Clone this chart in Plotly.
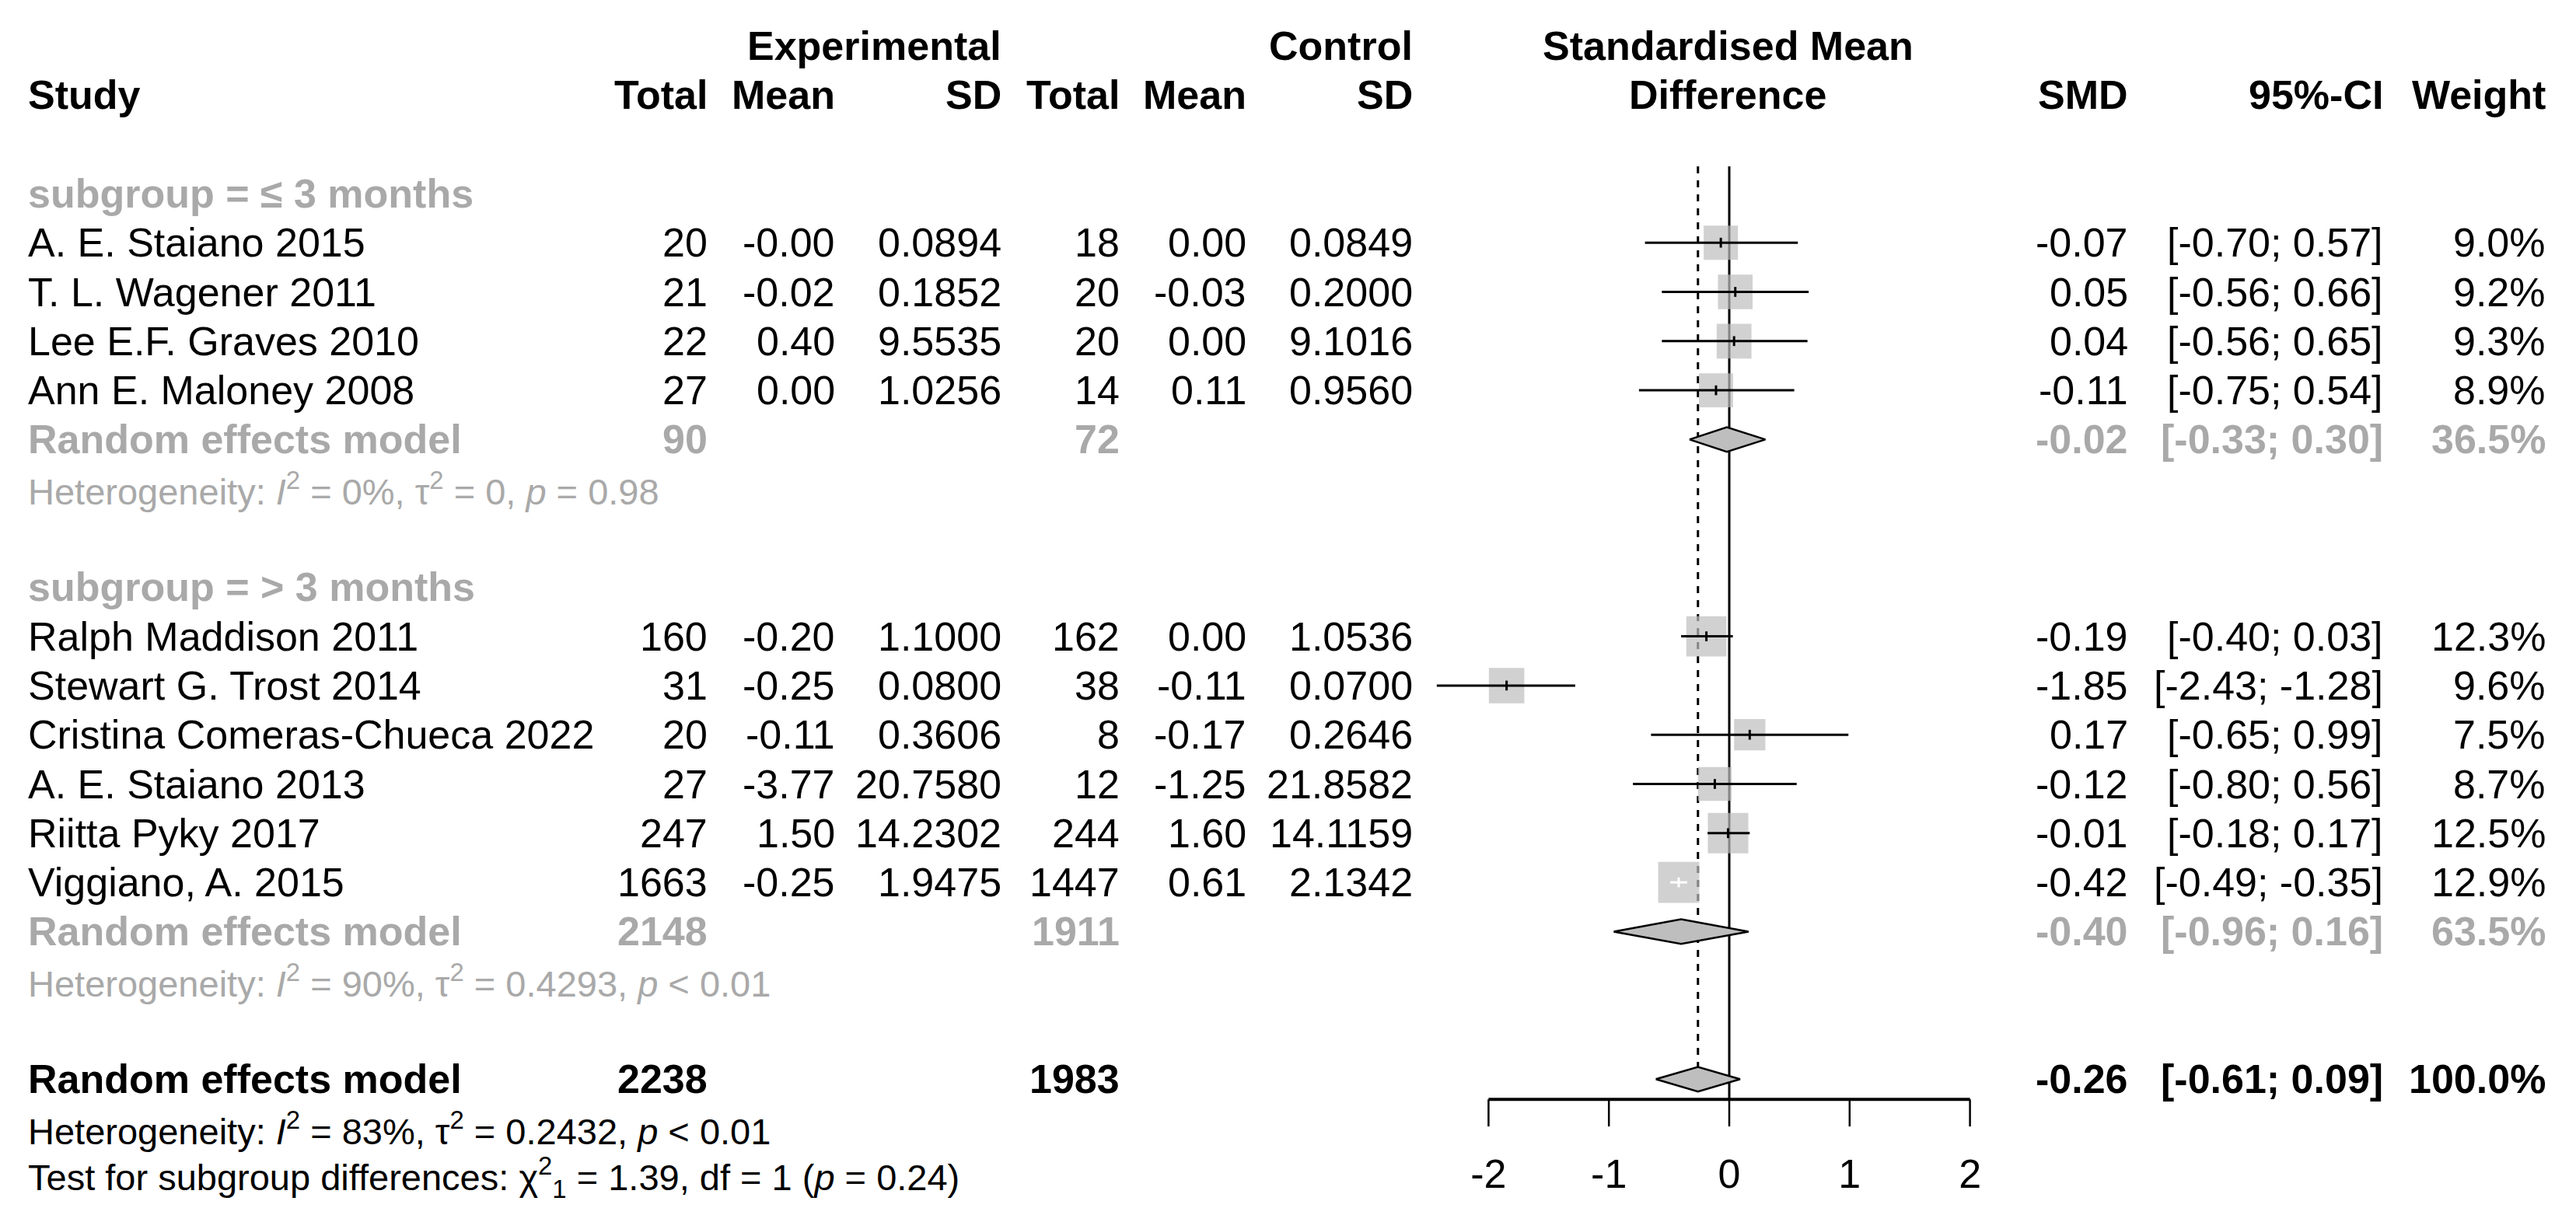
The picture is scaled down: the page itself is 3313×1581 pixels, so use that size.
import plotly.graph_objects as go

# ---------------- data ----------------
studies = ["A. E. Staiano 2015", "T. L. Wagener 2011", "Lee E.F. Graves 2010",
           "Ann E. Maloney 2008", "Ralph Maddison 2011", "Stewart G. Trost 2014",
           "Cristina Comeras-Chueca 2022", "A. E. Staiano 2013", "Riitta Pyky 2017",
           "Viggiano, A. 2015"]
group = [1, 1, 1, 1, 2, 2, 2, 2, 2, 2]
exp_total = [20, 21, 22, 27, 160, 31, 20, 27, 247, 1663]
exp_mean = [-0.0, -0.02, 0.40, 0.00, -0.20, -0.25, -0.11, -3.77, 1.50, -0.25]
exp_sd = [0.0894, 0.1852, 9.5535, 1.0256, 1.1000, 0.0800, 0.3606, 20.7580, 14.2302, 1.9475]
ctrl_total = [18, 20, 20, 14, 162, 38, 8, 12, 244, 1447]
ctrl_mean = [0.00, -0.03, 0.00, 0.11, 0.00, -0.11, -0.17, -1.25, 1.60, 0.61]
ctrl_sd = [0.0849, 0.2000, 9.1016, 0.9560, 1.0536, 0.0700, 0.2646, 21.8582, 14.1159, 2.1342]
smd = [-0.07, 0.05, 0.04, -0.11, -0.19, -1.85, 0.17, -0.12, -0.01, -0.42]
ci_low = [-0.70, -0.56, -0.56, -0.75, -0.40, -2.43, -0.65, -0.80, -0.18, -0.49]
ci_high = [0.57, 0.66, 0.65, 0.54, 0.03, -1.28, 0.99, 0.56, 0.17, -0.35]
weight = [9.0, 9.2, 9.3, 8.9, 12.3, 9.6, 7.5, 8.7, 12.5, 12.9]

sg_labels = ["subgroup = \u2264 3 months", "subgroup = > 3 months"]
sg_exp_total = [90, 2148]
sg_ctrl_total = [72, 1911]
sg_smd = [-0.02, -0.40]
sg_low = [-0.33, -0.96]
sg_high = [0.30, 0.16]
sg_weight = [36.5, 63.5]
sg_I2 = ["0%", "90%"]
sg_tau2 = ["0", "0.4293"]
sg_p = ["= 0.98", "< 0.01"]

all_exp_total = 2238
all_ctrl_total = 1983
all_smd = -0.26
all_low = -0.61
all_high = 0.09
all_weight = 100.0
all_I2 = "83%"
all_tau2 = "0.2432"
all_p = "< 0.01"
test_chi2 = "1.39"
test_df = "1"
test_p = "= 0.24"

ticks = [-2, -1, 0, 1, 2]
tick_labels = ["-2", "-1", "0", "1", "2"]

# ---------------- style / geometry ----------------
W, H = 3313, 1581
ZERO_PX, UNIT_PX = 2224, 154.8
ROW0_PX, ROW_PX = 59, 63.3
FONT = "Liberation Sans, Arial, Helvetica, sans-serif"
BLACK = "#000000"
GRAY_TXT = "#A9A9A9"
GRAY_FILL = "#BEBEBE"
FS = 52
FS_HET = 47
SQ_K = 14.7

COL = dict(study=34, e_tot=912, e_mean=1076, e_sd=1290, c_tot=1442, c_mean=1605,
           c_sd=1819, forest=2222, smd=2739, ci=3067, w=3276)

annotations = []


def txt(row, px, s, anchor="right", color=BLACK, size=FS, bold=False):
    if bold:
        s = "<b>" + s + "</b>"
    annotations.append(dict(x=px / W, xref="paper", y=row, yref="y", text=s,
                            xanchor=anchor, yanchor="middle", showarrow=False,
                            font=dict(family=FONT, size=size, color=color)))


# row layout
study_row = [0] * len(studies)
sg_row, rem_row, het_row = [], [], []
r = 3
for g in range(2):
    sg_row.append(r); r += 1
    for i in range(len(studies)):
        if group[i] == g + 1:
            study_row[i] = r; r += 1
    rem_row.append(r); r += 1
    het_row.append(r); r += 1
    r += 1
all_row = r
all_het_row = r + 1
test_row = r + 2
axis_row = all_row + 0.41
tick_end_row = all_row + 0.96
line_top = 2.45
DIA = 0.25

fig = go.Figure()

# reference lines
fig.add_trace(go.Scatter(x=[0, 0], y=[line_top, axis_row], mode="lines",
                         line=dict(color=BLACK, width=3), hoverinfo="skip"))
fig.add_trace(go.Scatter(x=[all_smd, all_smd], y=[line_top, all_row - DIA], mode="lines",
                         line=dict(color=BLACK, width=3, dash="9px,9px"), hoverinfo="skip"))

# axis
fig.add_trace(go.Scatter(x=[ticks[0], ticks[-1]], y=[axis_row, axis_row], mode="lines",
                         line=dict(color=BLACK, width=4), hoverinfo="skip"))
tx, ty = [], []
for t in ticks:
    tx += [t, t, None]
    ty += [axis_row, tick_end_row, None]
fig.add_trace(go.Scatter(x=tx, y=ty, mode="lines", line=dict(color=BLACK, width=2.5),
                         hoverinfo="skip"))
fig.add_trace(go.Scatter(x=ticks, y=[test_row] * len(ticks), mode="text", text=tick_labels,
                         textposition="middle center",
                         textfont=dict(family=FONT, size=FS, color=BLACK), hoverinfo="skip"))

# squares
sizes = [SQ_K * w ** 0.5 for w in weight]
fig.add_trace(go.Scatter(x=smd, y=study_row, mode="markers",
                         marker=dict(symbol="square", size=sizes, color=GRAY_FILL,
                                     line=dict(width=0)), hoverinfo="skip"))

# CI lines (white when the interval lies inside its square)
bx, by, wx, wy = [], [], [], []
for i in range(len(studies)):
    hw = sizes[i] / 2 / UNIT_PX
    inside = ci_low[i] >= smd[i] - hw and ci_high[i] <= smd[i] + hw
    xs, ys = (wx, wy) if inside else (bx, by)
    xs += [ci_low[i], ci_high[i], None, smd[i], smd[i], None]
    ys += [study_row[i], study_row[i], None, study_row[i] - 0.1, study_row[i] + 0.1, None]
fig.add_trace(go.Scatter(x=bx, y=by, mode="lines", line=dict(color=BLACK, width=3),
                         hoverinfo="skip"))
fig.add_trace(go.Scatter(x=wx, y=wy, mode="lines", line=dict(color="#FFFFFF", width=3),
                         hoverinfo="skip"))


def diamond(est, lo, hi, row):
    fig.add_trace(go.Scatter(x=[lo, est, hi, est, lo], y=[row, row - DIA, row, row + DIA, row],
                             mode="lines", fill="toself", fillcolor=GRAY_FILL,
                             line=dict(color=BLACK, width=2.5), hoverinfo="skip"))


for g in range(2):
    diamond(sg_smd[g], sg_low[g], sg_high[g], rem_row[g])
diamond(all_smd, all_low, all_high, all_row)

# ---------------- text ----------------
txt(0, COL["e_sd"], "Experimental", bold=True)
txt(0, COL["c_sd"], "Control", bold=True)
txt(0, COL["forest"], "Standardised Mean", anchor="center", bold=True)
txt(1, COL["study"], "Study", anchor="left", bold=True)
for k, s in [("e_tot", "Total"), ("e_mean", "Mean"), ("e_sd", "SD"), ("c_tot", "Total"),
             ("c_mean", "Mean"), ("c_sd", "SD"), ("smd", "SMD"), ("ci", "95%-CI"),
             ("w", "Weight")]:
    txt(1, COL[k], s, bold=True)
txt(1, COL["forest"], "Difference", anchor="center", bold=True)

for i, s in enumerate(studies):
    rr = study_row[i]
    txt(rr, COL["study"], s, anchor="left")
    txt(rr, COL["e_tot"], str(exp_total[i]))
    txt(rr, COL["e_mean"], f"{exp_mean[i]:.2f}")
    txt(rr, COL["e_sd"], f"{exp_sd[i]:.4f}")
    txt(rr, COL["c_tot"], str(ctrl_total[i]))
    txt(rr, COL["c_mean"], f"{ctrl_mean[i]:.2f}")
    txt(rr, COL["c_sd"], f"{ctrl_sd[i]:.4f}")
    txt(rr, COL["smd"], f"{smd[i]:.2f}")
    txt(rr, COL["ci"], f"[{ci_low[i]:.2f}; {ci_high[i]:.2f}]")
    txt(rr, COL["w"], f"{weight[i]:.1f}%")

for g in range(2):
    txt(sg_row[g], COL["study"], sg_labels[g], anchor="left", color=GRAY_TXT, bold=True)
    rr = rem_row[g]
    txt(rr, COL["study"], "Random effects model", anchor="left", color=GRAY_TXT, bold=True)
    txt(rr, COL["e_tot"], str(sg_exp_total[g]), color=GRAY_TXT, bold=True)
    txt(rr, COL["c_tot"], str(sg_ctrl_total[g]), color=GRAY_TXT, bold=True)
    txt(rr, COL["smd"], f"{sg_smd[g]:.2f}", color=GRAY_TXT, bold=True)
    txt(rr, COL["ci"], f"[{sg_low[g]:.2f}; {sg_high[g]:.2f}]", color=GRAY_TXT, bold=True)
    txt(rr, COL["w"], f"{sg_weight[g]:.1f}%", color=GRAY_TXT, bold=True)
    txt(het_row[g], COL["study"],
        f"Heterogeneity: <i>I</i><sup>2</sup> = {sg_I2[g]}, \u03c4<sup>2</sup> = {sg_tau2[g]}, "
        f"<i>p</i> {sg_p[g]}", anchor="left", color=GRAY_TXT, size=FS_HET)

txt(all_row, COL["study"], "Random effects model", anchor="left", bold=True)
txt(all_row, COL["e_tot"], str(all_exp_total), bold=True)
txt(all_row, COL["c_tot"], str(all_ctrl_total), bold=True)
txt(all_row, COL["smd"], f"{all_smd:.2f}", bold=True)
txt(all_row, COL["ci"], f"[{all_low:.2f}; {all_high:.2f}]", bold=True)
txt(all_row, COL["w"], f"{all_weight:.1f}%", bold=True)
txt(all_het_row, COL["study"],
    f"Heterogeneity: <i>I</i><sup>2</sup> = {all_I2}, \u03c4<sup>2</sup> = {all_tau2}, "
    f"<i>p</i> {all_p}", anchor="left", size=FS_HET)
txt(test_row, COL["study"],
    f"Test for subgroup differences: \u03c7<sup>2</sup><sub>{test_df}</sub> = {test_chi2}, "
    f"df = {test_df} (<i>p</i> {test_p})", anchor="left", size=FS_HET)

fig.update_layout(
    width=W, height=H, margin=dict(l=0, r=0, t=0, b=0),
    paper_bgcolor="white", plot_bgcolor="white", showlegend=False, hovermode=False,
    annotations=annotations,
    xaxis=dict(range=[(0 - ZERO_PX) / UNIT_PX, (W - ZERO_PX) / UNIT_PX], visible=False,
               domain=[0, 1], fixedrange=True),
    yaxis=dict(range=[(H - ROW0_PX) / ROW_PX, -ROW0_PX / ROW_PX], visible=False,
               domain=[0, 1], fixedrange=True),
)

fig.write_html("out.html", config={"displayModeBar": False},
               post_script="document.body.style.margin='0';document.body.style.overflow='hidden';")
